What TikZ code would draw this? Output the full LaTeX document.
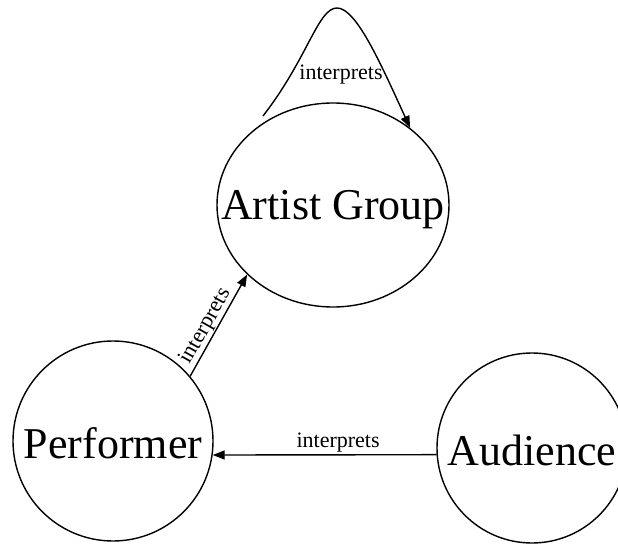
\documentclass[tikz,border=0pt]{standalone}
\usepackage{fontspec}
\setmainfont{Liberation Serif}
\usetikzlibrary{arrows.meta,shapes.geometric}

\tikzset{
  ent/.style={draw, line width=1.4pt, inner sep=0pt, text height=34pt, text depth=0pt,
              font=\fontsize{44}{50}\selectfont},
  rel/.style={line width=1.4pt, -{Triangle[length=12pt,width=9pt]}},
  rellabel/.style={font=\fontsize{22}{26}\selectfont, inner sep=1.5pt}
}

\begin{document}
\begin{tikzpicture}[x=1pt,y=-1pt]
  \useasboundingbox (0,0) rectangle (618,545);
  \clip (0,0) rectangle (618,545);

  % the three parties (the group's name is wider than its ellipse allows,
  % so it is set in a zero-width box to keep the ellipse at its size)
  \node[ent, ellipse, minimum width=232pt, minimum height=204pt, text height=30pt]
    (art) at (333,205) {\makebox[0pt]{Artist Group}};
  \node[ent, circle, minimum size=200pt] (perf) at (113,441) {Performer};
  \node[ent, circle, minimum size=190pt] (aud) at (532,448) {Audience};

  % self loop over the artist group
  \coordinate (loopstart) at (263,116);
  \coordinate (looptop) at (337,8);
  \draw[rel] (loopstart) .. controls (308,58) and (318,8) .. (looptop)
             .. controls (356,8) and (380,62) .. (art.45);
  \node[rellabel, anchor=base] (looplabel) at (341,80) {interprets};

  % performer interprets the artist group
  \draw[rel] (perf.40) -- node[rellabel, sloped, above, pos=0.44, inner sep=0.3pt] (perflabel) {interprets} (art.219);

  % audience interprets the performer
  \draw[rel] (aud.184) -- node[rellabel, above, pos=0.44] (audlabel) {interprets} (perf.352);
\end{tikzpicture}
\end{document}
